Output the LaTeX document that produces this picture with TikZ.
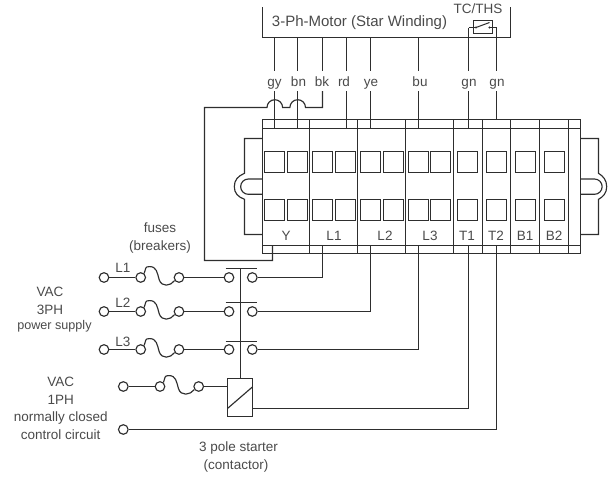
\documentclass[tikz,border=0pt]{standalone}
\usepackage{fontspec}
\setmainfont{Liberation Sans}
\definecolor{wire}{HTML}{2E2E2E}
\definecolor{lbl}{HTML}{4A4A4A}
\tikzset{
	wireline/.style = {draw = wire, line width = 1.15pt},
	thinline/.style = {draw = wire, line width = 1pt},
	term/.style = {circle, draw = wire, line width = 1.15pt, inner sep = 0, minimum size = 9.6pt},
	lab/.style = {text = lbl, font = \fontsize{13.5}{14}\selectfont, inner sep = 0, text height = 9.7pt, text depth = 2.9pt},
	coilbox/.style = {draw = wire, line width = 1.15pt, minimum width = 25pt, minimum height = 38pt, inner sep = 0}
}
% fuse between two terminals
\newcommand{\fuse}[2]{
	\draw[wireline] (#1.50) .. controls +(2,-5) and +(-5,0) .. ++(5.5,-6.8)
		.. controls +(7,0) and +(-2,-7) .. ++(9.5,13)
		.. controls +(2.5,8) and +(-4,5.5) .. (#2.215);
}
\begin{document}
\begin{tikzpicture}[x = 1pt, y = -1pt]
	\useasboundingbox (0, 0) rectangle (613, 477);
	%	motor
	\draw[wireline] (262.5, 7) -- (262.5, 37.5) -- (510.5, 37.5) -- (510.5, 7);
	\node[lab, font = \fontsize{15}{16}\selectfont] (motor) at (359.5, 23.3) {3-Ph-Motor (Star Winding)};
	\node[lab] (tcths) at (478, 10) {TC/THS};

	%	thermal switch
	\node[draw = wire, line width = 1pt, minimum width = 19pt, minimum height = 13pt, inner sep = 0] (ths) at (483, 26.5) {};
	\coordinate (thsl) at (468.5, 27.5);
	\coordinate (thsr) at (496.5, 27.5);
	\draw[wireline] (thsl) -- (476, 27.5);
	\draw[wireline] (489.5, 27.5) -- (thsr);
	\draw[thinline] (476, 27.5) -- (489.5, 22.5);
	\fill[wire] (476, 27.5) circle (1.2pt) (489.5, 27.5) circle (1.2pt);

	%	wires from the motor
	\foreach \n/\x/\lx/\t in {gy/274.5/274.5/gy, bn/297.5/298.5/bn, bk/322.5/322/bk, rd/346.5/344/rd, ye/370.5/371/ye, bu/418.5/420/bu, gna/468.5/469/gn, gnb/496.5/497/gn}{
		\node[lab] (\n) at (\lx, 82.6) {\t};
		\draw[wireline] (\x, 37.5) -- (\x, 71);
	}
	\foreach \x/\yend in {274.5/128.5, 297.5/128.5, 346.5/128.5, 370.5/128.5, 418.5/128.5, 468.5/128.5, 496.5/119.5}{
		\draw[wireline] (\x, 91) -- (\x, \yend);
	}
	\draw[wireline] (468.5, 37.5) -- (thsl);
	\draw[wireline] (496.5, 37.5) -- (thsr);

	%	star point
	\draw[wireline] (322.5, 91) -- (322.5, 107.5) -- (305.5, 107.5) arc[start angle = 0, end angle = -180, radius = 7.8]
		-- (282.6, 107.5) arc[start angle = 0, end angle = -180, radius = 7.8]
		-- (204.5, 107.5) -- (204.5, 260.5) -- (272.5, 260.5) -- (272.5, 245.5);

	%	terminal block
	\draw[wireline] (262.5, 119.5) rectangle (580.5, 253.5);
	\draw[wireline] (262.5, 128.5) -- (580.5, 128.5);
	\draw[wireline] (262.5, 245.5) -- (580.5, 245.5);
	\foreach \x in {309.5, 357.5, 405.5, 453.5, 482.5, 510.5, 539.5, 568.5}{
		\draw[thinline] (\x, 119.5) -- (\x, 253.5);
	}
	\foreach \x in {264.5, 287.5, 312.5, 335.5, 360.5, 383.5, 408.5, 430.5, 457.5, 486.5, 515.5, 544.5}{
		\draw[thinline] (\x, 151.5) rectangle +(20, 21);
		\draw[thinline] (\x, 199.5) rectangle +(20, 21);
	}
	\foreach \x/\t in {286/Y, 334/L1, 385/L2, 430/L3, 467/T1, 496/T2, 525/B1, 554/B2}{
		\node[lab] (term\t) at (\x, 237.3) {\t};
	}

	%	latches
	\draw[wireline] (262.5, 138.5) -- (244.5, 138.5) -- (244.5, 173.3) .. controls (238, 176) and (234.3, 180) .. (234.3, 186.7)
		.. controls (234.3, 193) and (238, 197) .. (244.5, 199.3) -- (244.5, 234.5) -- (262.5, 234.5);
	\draw[wireline] (262.5, 179) -- (248.3, 179) arc[start angle = -90, end angle = -270, radius = 7.65] -- (262.5, 194.3);
	\draw[wireline] (580.5, 138.5) -- (598.5, 138.5) -- (598.5, 173.3) .. controls (603, 176) and (606.7, 180) .. (606.7, 186.7)
		.. controls (606.7, 193) and (603, 197) .. (598.5, 199.3) -- (598.5, 234.5) -- (580.5, 234.5);
	\draw[wireline] (580.5, 179) -- (594.5, 179) arc[start angle = -90, end angle = 90, radius = 7.65] -- (580.5, 194.3);

	%	power rows
	\foreach \n/\y/\by/\t/\ly in {a/277.5/268.5/L1/269.3, b/311.5/302.5/L2/303.9, c/349.5/341.5/L3/342.6}{
		\node[term] (in\n) at (104, \y) {};
		\node[term] (fa\n) at (140.7, \y) {};
		\node[term] (fb\n) at (179, \y) {};
		\node[term] (ka\n) at (229, \y) {};
		\node[term] (kb\n) at (252.3, \y) {};
		\coordinate (bar\n) at (240.5, \by);
		\node[lab] (lab\t) at (123, \ly) {\t};
		\draw[wireline] (in\n) -- (fa\n);
		\fuse{fa\n}{fb\n}
		\draw[wireline] (fb\n) -- (ka\n);
		\draw[wireline] ([xshift = -15pt]bar\n) -- ([xshift = 16pt]bar\n);
	}

	%	outgoing wires
	\coordinate (outa) at (322.5, 245.5);
	\coordinate (outb) at (370.5, 245.5);
	\coordinate (outc) at (418.5, 245.5);
	\draw[wireline] (kba) -- (outa |- kba) -- (outa);
	\draw[wireline] (kbb) -- (outb |- kbb) -- (outb);
	\draw[wireline] (kbc) -- (outc |- kbc) -- (outc);

	%	contactor coil
	\node[coilbox] (coil) at (240, 397.5) {};
	\draw[wireline] (bara) -- (coil.north -| bara);
	\draw[wireline] (227.7, 408.3) -- (252.7, 386.7);

	%	control circuit
	\node[term] (ctla) at (123.3, 386.5) {};
	\node[term] (ctlb) at (160, 386.5) {};
	\node[term] (ctlc) at (198.7, 386.5) {};
	\node[term] (ctld) at (123.3, 429.5) {};
	\coordinate (outt) at (468.5, 245.5);
	\coordinate (outu) at (496.5, 245.5);
	\draw[wireline] (ctla) -- (ctlb);
	\fuse{ctlb}{ctlc}
	\draw[wireline] (ctlc) -- (coil.west |- ctlc);
	\draw[wireline] (coil.east |- 0, 408.5) -- (outt |- 0, 408.5) -- (outt);
	\draw[wireline] (ctld) -- (outu |- ctld) -- (outu);

	%	texts
	\node[lab] (fuses) at (160, 229.2) {fuses};
	\node[lab] (breakers) at (160, 247.3) {(breakers)};
	\node[lab] (vaca) at (50, 292.6) {VAC};
	\node[lab] (ph3) at (50, 310.6) {3PH};
	\node[lab, font = \fontsize{12.6}{14}\selectfont] (supply) at (54.5, 325.6) {power supply};
	\node[lab] (vacb) at (60.7, 382.6) {VAC};
	\node[lab] (ph1) at (60.7, 400.6) {1PH};
	\node[lab] (closed) at (60.7, 417.6) {normally closed};
	\node[lab] (control) at (60.7, 435.6) {control circuit};
	\node[lab] (starter) at (238.5, 448.3) {3 pole starter};
	\node[lab] (contactor) at (236, 466) {(contactor)};
\end{tikzpicture}
\end{document}
